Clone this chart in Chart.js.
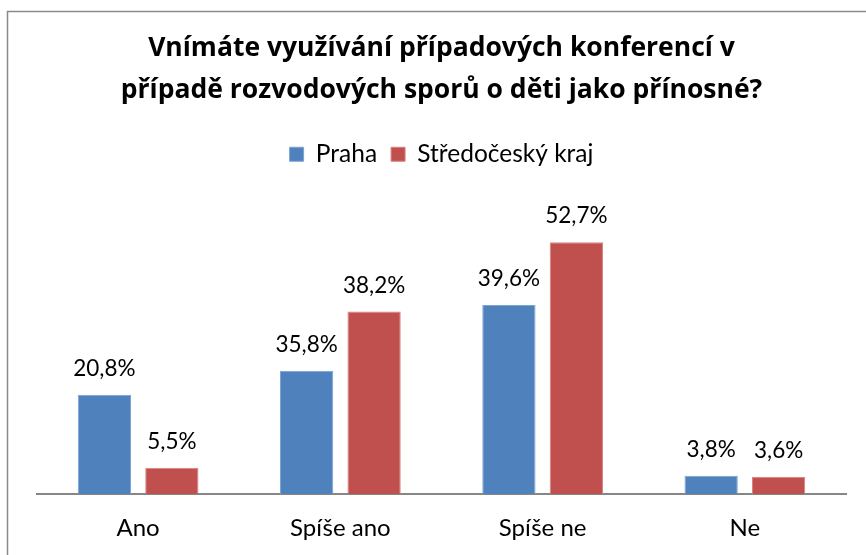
<!DOCTYPE html>
<html>
<head>
<meta charset="utf-8">
<script src="https://cdn.jsdelivr.net/npm/chart.js@4"></script>
<style>
    html, body { margin: 0; padding: 0; background: #fff; }
    #wrap { width: 866px; height: 555px; position: relative; }
</style>
</head>
<body>
<div id="wrap"><canvas id="chart"></canvas></div>
<script>
// --- DATA ---
const categories = ['Ano', 'Spíše ano', 'Spíše ne', 'Ne'];
// bar heights as drawn in the picture (the "Spíše ano" Praha bar is drawn lower than its label says)
const prahaValues = [20.8, 25.8, 39.6, 3.8];
const stredoceskyValues = [5.5, 38.2, 52.7, 3.6];
// value labels as printed above the bars
const prahaLabels = ['20,8%', '35,8%', '39,6%', '3,8%'];
const stredoceskyLabels = ['5,5%', '38,2%', '52,7%', '3,6%'];
const seriesNames = ['Praha', 'Středočeský kraj'];
const titleLines = ['Vnímáte využívání případových konferencí v', 'případě rozvodových sporů o děti jako přínosné?'];

const FONT = 'Lato, "Open Sans", sans-serif';

// frame round the chart (cut off at right and bottom, as in the picture)
const framePlugin = {
    id: 'frame',
    beforeDraw(chart) {
        const ctx = chart.ctx;
        ctx.save();
        ctx.fillStyle = '#fff';
        ctx.fillRect(0, 0, chart.width, chart.height);
        ctx.strokeStyle = '#8a8a8a';
        ctx.lineWidth = 1.5;
        ctx.strokeRect(7.5, 11.5, chart.width + 20, chart.height + 20);
        ctx.restore();
    }
};

// value labels above the bars
const valueLabels = {
    id: 'valueLabels',
    afterDatasetsDraw(chart) {
        const ctx = chart.ctx;
        ctx.save();
        ctx.font = '22.5px ' + FONT;
        ctx.fillStyle = '#000';
        ctx.textAlign = 'center';
        ctx.textBaseline = 'alphabetic';
        chart.data.datasets.forEach((ds, i) => {
            chart.getDatasetMeta(i).data.forEach((bar, j) => {
                ctx.fillText(ds.valueLabels[j], bar.x, bar.y - 19);
            });
        });
        ctx.restore();
    }
};

// extra room under the legend
const legendGap = {
    id: 'legendGap',
    beforeInit(chart) {
        const fit = chart.legend.fit;
        chart.legend.fit = function () {
            fit.bind(chart.legend)();
            this.height += 31;
        };
    }
};

new Chart(document.getElementById('chart'), {
    type: 'bar',
    data: {
        labels: categories,
        datasets: [
            { label: seriesNames[0], data: prahaValues, valueLabels: prahaLabels,
              backgroundColor: '#4F81BD', borderColor: '#7fa3d0', borderWidth: 1 },
            { label: seriesNames[1], data: stredoceskyValues, valueLabels: stredoceskyLabels,
              backgroundColor: '#C0504D', borderColor: '#d58482', borderWidth: 1 }
        ]
    },
    options: {
        responsive: true, maintainAspectRatio: false, animation: false,
        categoryPercentage: 0.667, barPercentage: 0.79,
        layout: { padding: { left: 37, right: 20, top: 11, bottom: 0 } },
        plugins: {
            title: {
                display: true, text: titleLines, color: '#000',
                font: { family: '"Open Sans", Lato, sans-serif', size: 26.5, weight: 'bold', lineHeight: 1.585 },
                padding: { top: 16, bottom: 17 }
            },
            legend: {
                position: 'top',
                labels: { color: '#000', boxWidth: 14, boxHeight: 14, padding: 14, font: { family: FONT, size: 24.5 } }
            },
            tooltip: { enabled: false }
        },
        scales: {
            x: {
                grid: { display: false, drawTicks: false },
                border: { color: '#868686', width: 2 },
                ticks: { color: '#000', padding: 20, font: { family: FONT, size: 24 } },
                afterFit(axis) { axis.height = 61; }
            },
            y: { display: false, min: 0, max: 60 }
        }
    },
    plugins: [framePlugin, valueLabels, legendGap]
});
</script>
</body>
</html>
